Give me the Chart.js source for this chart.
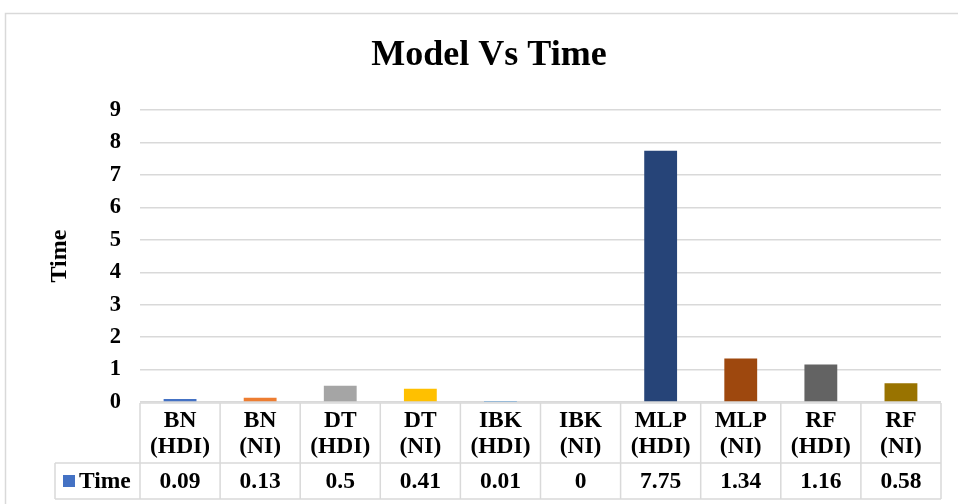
<!DOCTYPE html>
<html>
<head>
<meta charset="utf-8">
<script src="https://cdn.jsdelivr.net/npm/chart.js@4/dist/chart.umd.min.js"></script>
<style>
  html, body { margin: 0; padding: 0; background: #ffffff; }
  #wrap { width: 958px; height: 504px; position: relative; }
</style>
</head>
<body>
<div id="wrap"><canvas id="c" width="958" height="504"></canvas></div>
<script>
// Model run times (seconds)
const models = [
  ['BN', '(HDI)'], ['BN', '(NI)'], ['DT', '(HDI)'], ['DT', '(NI)'], ['IBK', '(HDI)'],
  ['IBK', '(NI)'], ['MLP', '(HDI)'], ['MLP', '(NI)'], ['RF', '(HDI)'], ['RF', '(NI)']
];
const timeValues = [0.09, 0.13, 0.5, 0.41, 0.01, 0, 7.75, 1.34, 1.16, 0.58];
const valueLabels = ['0.09', '0.13', '0.5', '0.41', '0.01', '0', '7.75', '1.34', '1.16', '0.58'];
const yTicks = [0, 1, 2, 3, 4, 5, 6, 7, 8, 9];
const seriesName = 'Time';

const barColors = ['#4472C4', '#ED7D31', '#A5A5A5', '#FFC000', '#5B9BD5',
                   '#70AD47', '#264478', '#9E480E', '#636363', '#997300'];
const legendColor = '#4472C4';
const serif = "'Liberation Serif', 'Times New Roman', serif";
const gridColor = '#d9d9d9';

// Outer frame of the chart object
const framePlugin = {
  id: 'frame',
  beforeDraw(chart) {
    const ctx = chart.ctx;
    ctx.save();
    ctx.strokeStyle = '#d9d9d9';
    ctx.lineWidth = 1.5;
    ctx.strokeRect(5.5, 13.5, 1000, 600);
    ctx.restore();
  }
};

// Data table under the plot: category names, then the series values
const tablePlugin = {
  id: 'dataTable',
  afterDraw(chart) {
    const ctx = chart.ctx;
    const xs = chart.scales.x;
    const area = chart.chartArea;
    const n = models.length;
    const cw = (area.right - area.left) / n;
    const top = area.bottom + 1;
    const mid = 463;
    const bot = 499;
    const keyLeft = 55;

    ctx.save();
    ctx.strokeStyle = gridColor;
    ctx.lineWidth = 1.5;
    ctx.beginPath();
    ctx.moveTo(area.left, top); ctx.lineTo(area.right, top);
    ctx.moveTo(keyLeft, mid); ctx.lineTo(area.right, mid);
    ctx.moveTo(keyLeft, bot); ctx.lineTo(area.right, bot);
    for (let i = 0; i <= n; i++) {
      const x = area.left + i * cw;
      ctx.moveTo(x, top); ctx.lineTo(x, bot);
    }
    ctx.moveTo(keyLeft, mid); ctx.lineTo(keyLeft, bot);
    ctx.stroke();

    ctx.fillStyle = '#000000';
    ctx.textAlign = 'center';
    ctx.textBaseline = 'middle';
    ctx.font = 'bold 23.5px ' + serif;
    for (let i = 0; i < n; i++) {
      const cx = xs.getPixelForValue(i);
      ctx.fillText(models[i][0], cx, top + 18);
      ctx.fillText(models[i][1], cx, top + 44);
      ctx.fillText(valueLabels[i], cx, (mid + bot) / 2 + 1);
    }
    // legend key
    ctx.fillStyle = legendColor;
    ctx.fillRect(63, 475, 12, 12);
    ctx.fillStyle = '#000000';
    ctx.textAlign = 'left';
    ctx.fillText(seriesName, 79, (mid + bot) / 2 + 1);
    ctx.restore();
  }
};

new Chart(document.getElementById('c'), {
  type: 'bar',
  data: {
    labels: models.map(m => m.join(' ')),
    datasets: [{
      label: seriesName,
      data: timeValues,
      backgroundColor: barColors,
      borderWidth: 0,
      barPercentage: 1,
      categoryPercentage: 0.41
    }]
  },
  options: {
    responsive: false,
    animation: false,
    events: [],
    layout: { padding: { left: 37, right: 17, top: 0, bottom: 94 } },
    plugins: {
      legend: { display: false },
      tooltip: { enabled: false },
      title: {
        display: true,
        text: 'Model Vs Time',
        color: '#000000',
        font: { family: serif, size: 36, weight: 'bold' },
        padding: { top: 34, bottom: 33 }
      }
    },
    scales: {
      x: {
        grid: { display: false },
        border: { display: false },
        ticks: { display: false }
      },
      y: {
        min: 0,
        max: 9,
        afterFit(scale) { scale.width = 103; },
        afterBuildTicks(scale) { scale.ticks = yTicks.map(v => ({ value: v })); },
        grid: { color: gridColor, lineWidth: 1.5, drawTicks: false },
        border: { display: false },
        ticks: {
          color: '#000000',
          padding: 19,
          font: { family: serif, size: 22.5, weight: 'bold' }
        },
        title: {
          display: true,
          text: 'Time',
          color: '#000000',
          font: { family: serif, size: 24, weight: 'bold' },
          padding: { top: 8, bottom: 0 }
        }
      }
    }
  },
  plugins: [framePlugin, tablePlugin]
});
</script>
</body>
</html>
